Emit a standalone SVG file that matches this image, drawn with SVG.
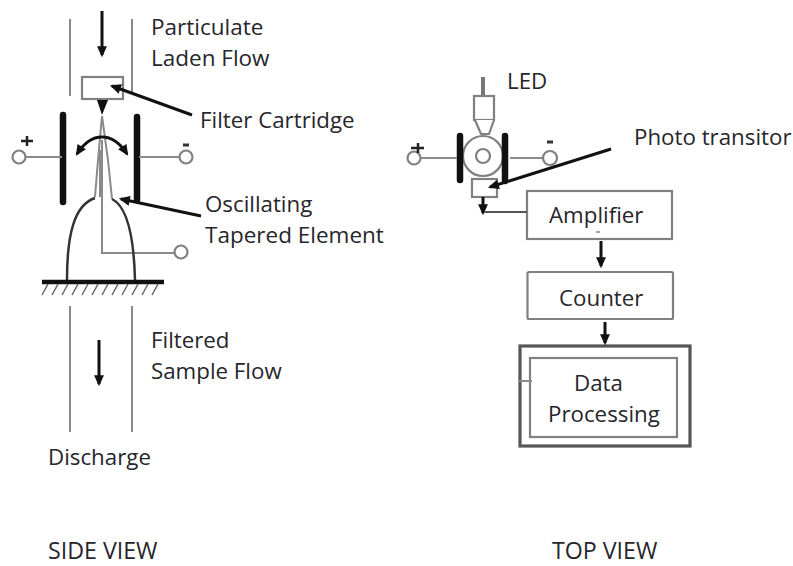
<svg xmlns="http://www.w3.org/2000/svg" width="793" height="566" viewBox="0 0 793 566">
<defs>
<marker id="ah" viewBox="0 0 10 10" refX="8" refY="5" markerWidth="12" markerHeight="11" orient="auto" markerUnits="userSpaceOnUse"><path d="M0 0.5L10 5L0 9.500z" fill="#111"/></marker>
</defs>
<style>
text{font-family:"Open Sans","Noto Sans","Liberation Sans",sans-serif;font-size:22.3px;fill:#26262b}
.cap{font-size:22.500px}
.view{font-size:23.200px}
.g{fill:none;stroke:#8a8a8a;stroke-width:2}
.d{fill:none;stroke:#555;stroke-width:2}
.b{fill:none;stroke:#111;stroke-width:3}
.t{fill:none;stroke:#111;stroke-width:6.500;stroke-linecap:round}
.w{fill:#fff;stroke:#808080;stroke-width:2.200}
</style>
<rect width="793" height="566" fill="#fff"/>
<g id="side-duct">
<path class="g" d="M70 19V96M132 19V92M70 306V432M132 306V432"/>
</g>
<g id="tapered-element">
<path class="g" d="M102 116L98 160L95 197M102 116L108 160L112 199M102 140V253H174M100 150V197"/>
<circle class="w" cx="181" cy="252" r="6.500"/>
<path d="M67 280C67 235 74 205 95 198M135 280C134 240 128 207 112 199" fill="none" stroke="#333" stroke-width="2.500"/>
</g>
<g id="filter-cartridge"><rect class="w" x="82" y="77" width="41" height="22"/><path d="M97 100H108L102 115z" fill="#111"/></g>
<g id="plus-plate"><path class="t" d="M63 115V202"/><path class="g" d="M25 157H62"/><circle class="w" cx="19" cy="157" r="6.500"/><path d="M21 141H33M27 136V146" stroke="#222" stroke-width="2.500"/></g>
<g id="minus-plate"><path class="t" d="M137 117V200"/><path class="g" d="M139 157H179"/><circle class="w" cx="186" cy="157" r="6.500"/><path d="M183 145H189" stroke="#333" stroke-width="3"/></g>
<g id="ground"><path d="M42 282H164" stroke="#111" stroke-width="4.500"/><path d="M48 284L42 295M58 284L52 295M68 284L62 295M78 284L72 295M88 284L82 295M98 284L92 295M108 284L102 295M118 284L112 295M128 284L122 295M138 284L132 295M148 284L142 295M158 284L152 295" stroke="#666" stroke-width="1.500"/></g>
<g id="led"><path d="M483 77V95" stroke="#777" stroke-width="4"/><rect class="w" x="474" y="96" width="20" height="24"/><path class="w" d="M475 120L481 134H489L494 120"/></g>
<g id="tube"><circle class="w" cx="483" cy="156" r="20"/><circle class="w" cx="483" cy="156" r="7"/></g>
<g id="top-plus"><path class="t" d="M460 136V180"/><path class="g" d="M421 158H457"/><circle class="w" cx="414" cy="158" r="6.500"/><path d="M411 148H424M418 143V153" stroke="#222" stroke-width="2.500"/></g>
<g id="top-minus"><path class="t" d="M505 136V181"/><path class="g" d="M510 158H543"/><circle class="w" cx="550" cy="158" r="7"/><path d="M547 142H553" stroke="#333" stroke-width="3"/></g>
<g id="photo-transistor"><rect class="w" x="472" y="179" width="25" height="18"/></g>
<g id="amplifier"><rect class="w" x="527" y="191" width="145" height="48"/><path d="M596 232H600" stroke="#888" stroke-width="1.500"/><text x="549" y="223">Amplifier</text></g>
<g id="counter"><rect class="w" x="527.500" y="272" width="145.500" height="47" rx="1.500"/><text x="559" y="306">Counter</text></g>
<g id="data-processing"><rect x="520" y="346" width="170" height="100" fill="#fff" stroke="#555" stroke-width="3.200"/><rect class="w" x="530" y="358" width="147" height="79"/><path class="g" d="M518 381H532"/><text x="574" y="391">Data</text><text x="548" y="422">Processing</text></g>
<g id="connectors">
<path class="b" d="M102 11V55" marker-end="url(#ah)"/>
<path class="b" d="M99 340V384" marker-end="url(#ah)"/>
<path class="b" d="M192 115L112 86" marker-end="url(#ah)"/>
<path class="b" d="M201 216L121 199" marker-end="url(#ah)"/>
<path class="b" d="M102 137C92 137 84 143 77 154" marker-end="url(#ah)"/>
<path class="b" d="M102 137C112 137 120 143 127 154" marker-end="url(#ah)"/>
<path class="b" d="M611 149L490 187" marker-end="url(#ah)"/>
<path class="b" d="M483 197V213" marker-end="url(#ah)"/>
<path class="d" d="M484 212H527"/>
<path class="b" d="M601 241V266" marker-end="url(#ah)"/>
<path class="b" d="M605 322V343" marker-end="url(#ah)"/>
</g>
<g id="labels">
<text x="151" y="35" class="cap">Particulate</text><text x="151" y="66" class="cap">Laden Flow</text>
<text x="200" y="128">Filter Cartridge</text>
<text x="205" y="212">Oscillating</text><text x="205" y="243" class="cap">Tapered Element</text>
<text x="151" y="348">Filtered</text><text x="151" y="379">Sample Flow</text>
<text x="48" y="465">Discharge</text>
<text x="48" y="559" class="view">SIDE VIEW</text>
<text x="552" y="559" class="view">TOP VIEW</text>
<text x="507" y="89">LED</text>
<text x="634" y="145">Photo transitor</text>
</g>
</svg>
